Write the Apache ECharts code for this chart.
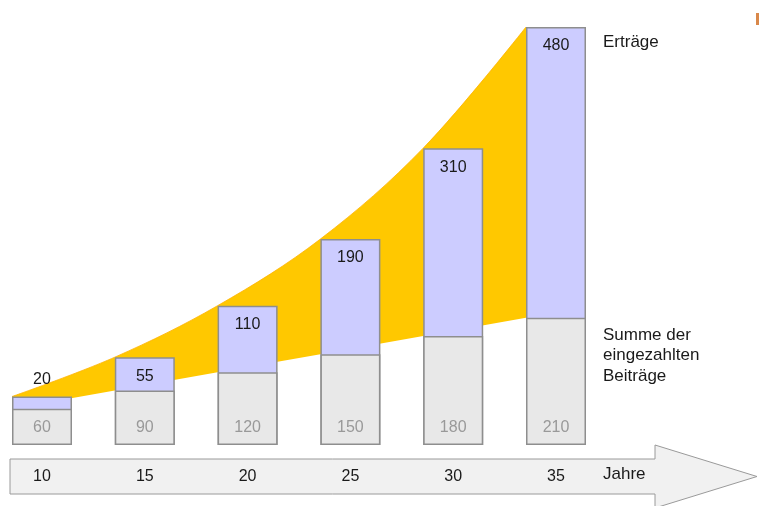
<!DOCTYPE html>
<html>
<head>
<meta charset="utf-8">
<script src="https://cdn.jsdelivr.net/npm/echarts@6/dist/echarts.min.js"></script>
<style>html,body{margin:0;padding:0;background:#fff;}#c{width:759px;height:506px;}</style>
</head>
<body>
<div id="c"></div>
<script>
const years = [10, 15, 20, 25, 30, 35];
const beitraege = [60, 90, 120, 150, 180, 210];
const ertraege = [20, 55, 110, 190, 310, 480];
const legendErtraege = 'Erträge';
const legendBeitraege = ['Summe der', 'eingezahlten', 'Beiträge'];
const axisName = 'Jahre';

const W = 759, H = 506;
const pxPerYear = 514 / 25;
const xMin = 10 - 42 / pxPerYear;
const xMax = xMin + W / pxPerYear;
const barPx = 60;
const half = (barPx / 2) / pxPerYear;
const FONT = 'Liberation Sans, Arial, sans-serif';

const totals = years.map((y, i) => beitraege[i] + ertraege[i]);
const upper = years.map((y, i) => [y - half, totals[i]]);
const lower = years.map((y, i) => [y - half, beitraege[i]]);

const chart = echarts.init(document.getElementById('c'), null, {renderer: 'canvas'});
chart.setOption({
  animation: false,
  backgroundColor: '#ffffff',
  grid: {left: 0, right: 0, top: 27, bottom: 61},
  xAxis: {
    type: 'value', min: xMin, max: xMax, z: 5,
    axisLine: {show: false}, splitLine: {show: false},
    axisTick: {show: false},
    axisLabel: {
      customValues: years, margin: 24,
      color: '#1a1a1a', fontSize: 16, fontFamily: FONT
    }
  },
  yAxis: {
    type: 'value', min: 0, max: 690, show: false
  },
  graphic: [
    {
      type: 'polygon', z: 1,
      shape: {points: [[10, 459], [655, 459], [655, 445], [757, 476.5], [655, 508], [655, 494], [10, 494]]},
      style: {fill: '#f1f1f1', stroke: '#9a9a9a', lineWidth: 1}
    },
    {type: 'text', left: 603, top: 34, style: {text: legendErtraege, fill: '#1a1a1a', font: '17px ' + FONT}},
    {type: 'text', left: 603, top: 325, style: {text: legendBeitraege.join('\n'), fill: '#1a1a1a', font: '17px ' + FONT, lineHeight: 20.5}},
    {type: 'text', left: 603, top: 466, z: 10, style: {text: axisName, fill: '#1a1a1a', font: '17px ' + FONT}},
    {type: 'rect', left: 756, top: 13, z: 10, shape: {width: 3, height: 12}, style: {fill: '#d9884a'}}
  ],
  series: [
    {
      type: 'line', data: upper, smooth: 0.35, symbol: 'none', z: 1,
      lineStyle: {width: 0.8, color: '#ffb300'},
      areaStyle: {color: '#ffc800', opacity: 1}
    },
    {
      type: 'line', data: lower, smooth: false, symbol: 'none', z: 2,
      lineStyle: {width: 0},
      areaStyle: {color: '#ffffff', opacity: 1}
    },
    {
      type: 'bar', barWidth: barPx, barGap: '-100%', z: 3,
      data: years.map((y, i) => {
        const d = {value: [y, totals[i]]};
        if (i === 0) d.label = {position: 'top', distance: 9};
        return d;
      }),
      itemStyle: {color: '#ccccff', borderColor: '#8e8e8e', borderWidth: 1.5},
      label: {
        show: true, position: 'insideTop', distance: 11,
        color: '#1a1a1a', fontSize: 16, fontFamily: FONT,
        formatter: p => String(ertraege[p.dataIndex])
      }
    },
    {
      type: 'bar', barWidth: barPx, barGap: '-100%', z: 4,
      data: years.map((y, i) => [y, beitraege[i]]),
      itemStyle: {color: '#e8e8e8', borderColor: '#8e8e8e', borderWidth: 1.5},
      label: {
        show: true, position: 'insideBottom', distance: 9,
        color: '#999999', fontSize: 16, fontFamily: FONT,
        formatter: p => String(beitraege[p.dataIndex])
      }
    }
  ]
});
</script>
</body>
</html>
